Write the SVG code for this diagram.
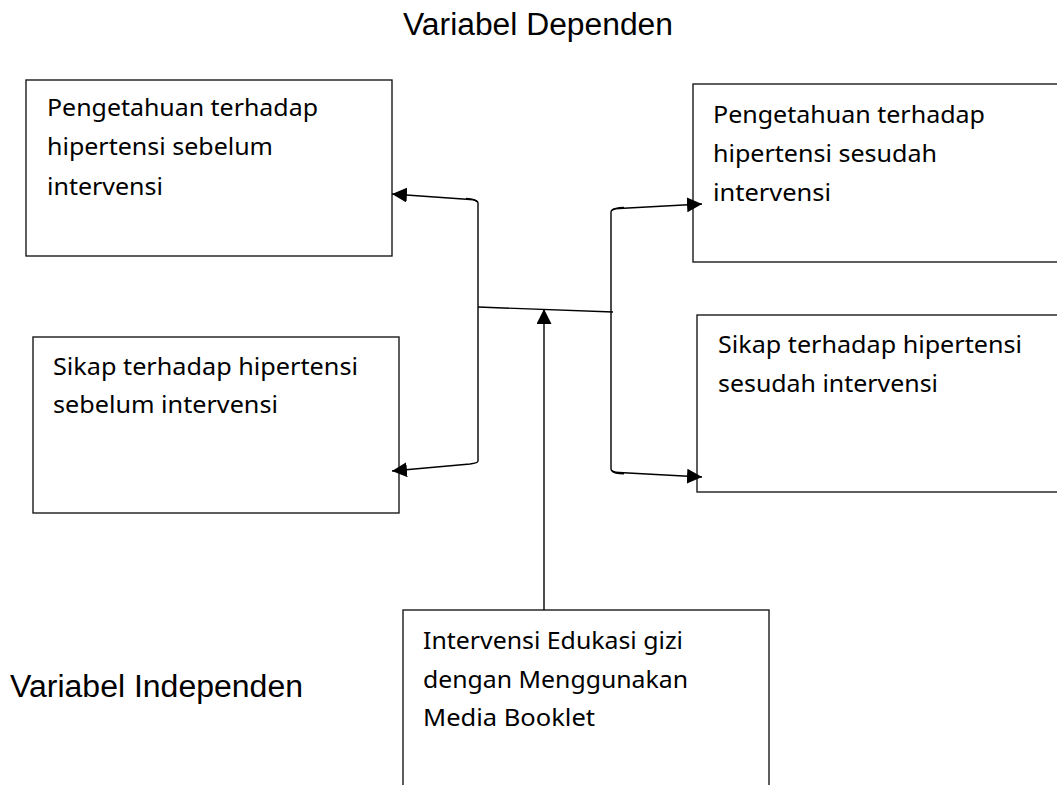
<svg xmlns="http://www.w3.org/2000/svg" width="1057" height="785" viewBox="0 0 1057 785">
  <style>
    .box { fill: #ffffff; stroke: #1a1a1a; stroke-width: 1.4; }
    .t { font-family: "Noto Sans", "Open Sans", sans-serif; font-size: 23.5px; fill: #000; }
    .title { font-family: "Liberation Sans", Arial, sans-serif; font-size: 31px; fill: #000; }
    .conn { fill: none; stroke: #000; stroke-width: 1.4; }
  </style>
  <defs>
    <marker id="arrow" viewBox="0 0 15 15" refX="15" refY="7.5" markerWidth="15" markerHeight="15" markerUnits="userSpaceOnUse" orient="auto">
      <path d="M0,0 L15,7.5 L0,15 Z" fill="#000"/>
    </marker>
  </defs>
  <rect width="1057" height="785" fill="#ffffff"/>

  <text class="title" x="403" y="35" textLength="270" lengthAdjust="spacingAndGlyphs">Variabel Dependen</text>
  <text class="title" x="10" y="697" textLength="293" lengthAdjust="spacingAndGlyphs">Variabel Independen</text>

  <g id="node-pengetahuan-sebelum">
    <rect class="box" x="26" y="80" width="366" height="176"/>
    <text class="t" x="47" y="116" textLength="271" lengthAdjust="spacingAndGlyphs">Pengetahuan terhadap</text>
    <text class="t" x="47" y="155" textLength="226" lengthAdjust="spacingAndGlyphs">hipertensi sebelum</text>
    <text class="t" x="47" y="195" textLength="116" lengthAdjust="spacingAndGlyphs">intervensi</text>
  </g>

  <g id="node-sikap-sebelum">
    <rect class="box" x="33" y="337" width="366" height="176"/>
    <text class="t" x="53" y="375" textLength="305" lengthAdjust="spacingAndGlyphs">Sikap terhadap hipertensi</text>
    <text class="t" x="53" y="413" textLength="225" lengthAdjust="spacingAndGlyphs">sebelum intervensi</text>
  </g>

  <g id="node-pengetahuan-sesudah">
    <rect class="box" x="693" y="84" width="380" height="178"/>
    <text class="t" x="713" y="123" textLength="272" lengthAdjust="spacingAndGlyphs">Pengetahuan terhadap</text>
    <text class="t" x="713" y="162" textLength="224" lengthAdjust="spacingAndGlyphs">hipertensi sesudah</text>
    <text class="t" x="713" y="201" textLength="118" lengthAdjust="spacingAndGlyphs">intervensi</text>
  </g>

  <g id="node-sikap-sesudah">
    <rect class="box" x="697" y="315" width="380" height="177"/>
    <text class="t" x="718" y="353" textLength="304" lengthAdjust="spacingAndGlyphs">Sikap terhadap hipertensi</text>
    <text class="t" x="718" y="392" textLength="220" lengthAdjust="spacingAndGlyphs">sesudah intervensi</text>
  </g>

  <g id="node-intervensi">
    <rect class="box" x="403" y="610" width="366" height="190"/>
    <text class="t" x="423" y="649" textLength="260" lengthAdjust="spacingAndGlyphs">Intervensi Edukasi gizi</text>
    <text class="t" x="423" y="688" textLength="265" lengthAdjust="spacingAndGlyphs">dengan Menggunakan</text>
    <text class="t" x="423" y="726" textLength="172" lengthAdjust="spacingAndGlyphs">Media Booklet</text>
  </g>

  <g id="connectors">
    <path class="conn" d="M478,307 L613,312"/>
    <path class="conn" d="M544,610 L544,309" marker-end="url(#arrow)"/>
    <path class="conn" d="M478,307 L478,203 Q478,200 470,199.5 L392,194" marker-end="url(#arrow)"/>
    <path class="conn" d="M477,202 Q476,199 466,198.5"/>
    <path class="conn" d="M478,307 L478,461 Q478,463 470,464 L392,471" marker-end="url(#arrow)"/>
    <path class="conn" d="M611,311 L611,212 Q611,209 619,208.5 L702,204" marker-end="url(#arrow)"/>
    <path class="conn" d="M612,210 Q614,208 624,207.5"/>
    <path class="conn" d="M611,311 L611,469 Q611,472 619,472.5 L702,477" marker-end="url(#arrow)"/>
    <path class="conn" d="M612,471 Q614,473.5 624,473.8"/>
  </g>
</svg>
